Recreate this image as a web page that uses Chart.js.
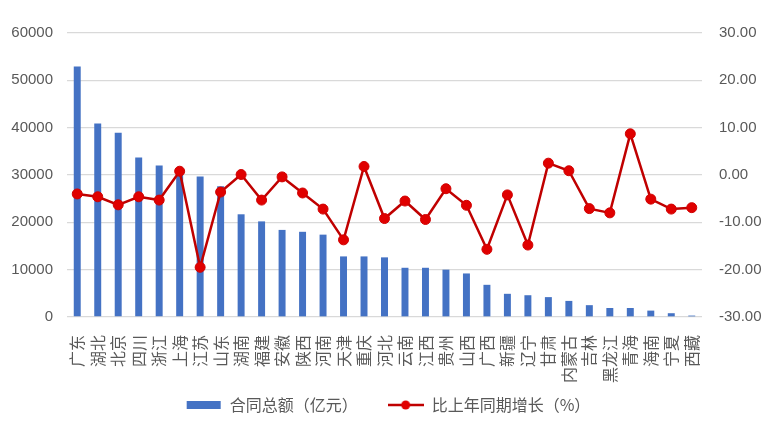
<!DOCTYPE html>
<html>
<head>
<meta charset="utf-8">
<script src="https://cdn.jsdelivr.net/npm/chart.js@4/dist/chart.umd.min.js"></script>
<style>
  html, body { margin: 0; padding: 0; background: #fff; }
  #wrap { width: 776px; height: 428px; }
</style>
</head>
<body>
<div id="wrap"><canvas id="chart"></canvas></div>
<script>
// 省份（按合同总额降序）
const provinces = ['广东', '湖北', '北京', '四川', '浙江', '上海', '江苏', '山东', '湖南', '福建', '安徽', '陕西',
    '河南', '天津', '重庆', '河北', '云南', '江西', '贵州', '山西', '广西', '新疆', '辽宁', '甘肃',
    '内蒙古', '吉林', '黑龙江', '青海', '海南', '宁夏', '西藏'];

// 合同总额（亿元）
const contractTotal = [52900, 40900, 38900, 33700, 32000, 31000, 29700, 27600, 21700, 20200, 18400, 18000,
    17400, 12800, 12800, 12600, 10400, 10400, 10000, 9200, 6800, 4900, 4600, 4200,
    3400, 2500, 1900, 1900, 1350, 800, 300];

// 比上年同期增长（%）
const growthRate = [-4.0, -4.6, -6.3, -4.6, -5.3, 0.8, -19.5, -3.6, 0.1, -5.3, -0.4, -3.8,
    -7.2, -13.7, 1.8, -9.2, -5.5, -9.4, -2.9, -6.4, -15.7, -4.2, -14.8, 2.5,
    0.9, -7.1, -8.0, 8.7, -5.1, -7.2, -6.9];

const leftTicks = [0, 60000, 10000];   // min, max, step
const rightTicks = [-30, 30, 10];

const textColor = '#595959';
const gridColor = '#d9d9d9';
const barColor = '#4472c4';
const lineColor = '#c00000';
const numFont = "'Liberation Sans', 'Noto Sans CJK SC', sans-serif";
const cjkFont = "'Noto Sans CJK SC', sans-serif";

// 图例里用的小图标
function legendIcon(kind) {
    const c = document.createElement('canvas');
    c.width = 36;
    c.height = 12;
    const g = c.getContext('2d');
    if (kind === 'bar') {
        g.fillStyle = barColor;
        g.fillRect(1, 2, 34, 8);
    } else {
        g.strokeStyle = lineColor;
        g.lineWidth = 2.5;
        g.beginPath();
        g.moveTo(0, 6);
        g.lineTo(36, 6);
        g.stroke();
        g.fillStyle = '#e00000';
        g.beginPath();
        g.arc(18, 6, 4.5, 0, Math.PI * 2);
        g.fill();
    }
    return c;
}
const icons = [legendIcon('bar'), legendIcon('line')];

new Chart(document.getElementById('chart'), {
    data: {
        labels: provinces,
        datasets: [{
            type: 'bar',
            label: '合同总额（亿元）',
            data: contractTotal,
            backgroundColor: barColor,
            yAxisID: 'y',
            barPercentage: 0.34,
            categoryPercentage: 1,
            order: 1
        }, {
            type: 'line',
            label: '比上年同期增长（%）',
            data: growthRate,
            borderColor: lineColor,
            borderWidth: 2.5,
            pointRadius: 5,
            pointBackgroundColor: '#e00000',
            pointBorderColor: '#d00000',
            pointBorderWidth: 1,
            tension: 0,
            yAxisID: 'y1',
            order: 0
        }]
    },
    options: {
        responsive: true,
        maintainAspectRatio: false,
        animation: false,
        layout: { padding: { top: 33, bottom: 5, left: 0, right: 0 } },
        scales: {
            x: {
                grid: { display: false },
                border: { display: false },
                ticks: {
                    color: textColor,
                    font: { family: cjkFont, size: 16 },
                    minRotation: 90,
                    maxRotation: 90,
                    autoSkip: false,
                    padding: 10
                },
                afterFit: (scale) => { scale.height = 74; }
            },
            y: {
                position: 'left',
                min: leftTicks[0],
                max: leftTicks[1],
                grid: { color: gridColor, lineWidth: 1.3, drawTicks: false },
                border: { display: false },
                ticks: {
                    stepSize: leftTicks[2],
                    color: textColor,
                    font: { family: numFont, size: 15 },
                    padding: 14,
                    callback: (v) => String(v)
                },
                afterFit: (scale) => { scale.width = 67; }
            },
            y1: {
                position: 'right',
                min: rightTicks[0],
                max: rightTicks[1],
                grid: { display: false, drawTicks: false },
                border: { display: false },
                ticks: {
                    stepSize: rightTicks[2],
                    color: textColor,
                    font: { family: numFont, size: 15 },
                    padding: 17,
                    callback: (v) => v.toFixed(2)
                },
                afterFit: (scale) => { scale.width = 74; }
            }
        },
        plugins: {
            tooltip: { enabled: false },
            legend: {
                position: 'bottom',
                labels: {
                    color: textColor,
                    font: { family: cjkFont, size: 16 },
                    usePointStyle: true,
                    pointStyleWidth: 36,
                    padding: 6,
                    sort: (a, b) => a.datasetIndex - b.datasetIndex,
                    generateLabels: (chart) => {
                        const items = Chart.defaults.plugins.legend.labels.generateLabels(chart);
                        items.forEach((it) => {
                            it.pointStyle = icons[it.datasetIndex];
                            // 两项之间留出较宽的间距
                            if (it.datasetIndex === 0) it.text += '\u3000\u3000';
                        });
                        return items;
                    }
                }
            }
        }
    }
});
</script>
</body>
</html>
